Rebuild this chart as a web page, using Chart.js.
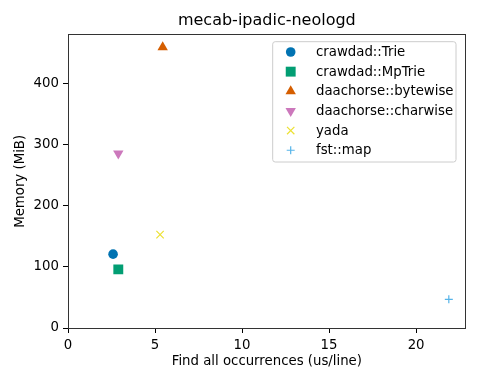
<!DOCTYPE html>
<html><head><meta charset="utf-8">
<script src="https://cdn.jsdelivr.net/npm/chart.js@4/dist/chart.umd.min.js"></script>
<style>html,body{margin:0;padding:0;background:#fff}#wrap{width:480px;height:384px}</style>
</head><body><div id="wrap"><canvas id="c" width="480" height="384"></canvas></div>
<script>
const seriesNames = ['crawdad::Trie','crawdad::MpTrie','daachorse::bytewise','daachorse::charwise','yada','fst::map'];
const findTimes = [2.59, 2.89, 5.44, 2.89, 5.29, 21.88];
const memoryMiB = [121, 96, 460, 286, 153, 47];
const colors = ['#0173b2','#029e73','#d55e00','#cc78bc','#ece133','#56b4e9'];
const markerStyles = ['circle','rect','triangle','triangle','crossRot','cross'];
const markerRot = [0,0,0,180,0,0];
const markerRadius = [4.8,7,6,6,5.2,4];
const xTicks = [0,5,10,15,20];
const yTicks = [0,100,200,300,400];
const xMax = 22.85, yMax = 480.6;
const FONT = 'DejaVu Sans';

function drawMarker(ctx, style, r, rot, x, y, color){
  ctx.save();
  ctx.translate(x,y);
  ctx.rotate(rot*Math.PI/180);
  ctx.fillStyle=color; ctx.strokeStyle=color; ctx.lineWidth=1.2;
  ctx.beginPath();
  if(style==='circle'){ctx.arc(0,0,r,0,Math.PI*2);ctx.fill();}
  else if(style==='rect'){const s=r*Math.SQRT1_2;ctx.rect(-s,-s,2*s,2*s);ctx.fill();}
  else if(style==='triangle'){
    for(let i=0;i<3;i++){const a=-Math.PI/2+i*2*Math.PI/3;const px=r*Math.cos(a),py=r*Math.sin(a);i?ctx.lineTo(px,py):ctx.moveTo(px,py);}
    ctx.closePath();ctx.fill();
  } else if(style==='crossRot'){const s=r*Math.SQRT1_2;ctx.moveTo(-s,-s);ctx.lineTo(s,s);ctx.moveTo(-s,s);ctx.lineTo(s,-s);ctx.stroke();}
  else if(style==='cross'){ctx.moveTo(-r,0);ctx.lineTo(r,0);ctx.moveTo(0,-r);ctx.lineTo(0,r);ctx.stroke();}
  ctx.restore();
}

const legendPlugin = {
  id:'mplLegend',
  afterDraw(chart){
    const ctx=chart.ctx;
    const x0=272.7,y0=41.7,w=183.3,h=120.3,rad=2.5;
    ctx.save();
    ctx.beginPath();
    ctx.moveTo(x0+rad,y0);ctx.lineTo(x0+w-rad,y0);ctx.arcTo(x0+w,y0,x0+w,y0+rad,rad);
    ctx.lineTo(x0+w,y0+h-rad);ctx.arcTo(x0+w,y0+h,x0+w-rad,y0+h,rad);
    ctx.lineTo(x0+rad,y0+h);ctx.arcTo(x0,y0+h,x0,y0+h-rad,rad);
    ctx.lineTo(x0,y0+rad);ctx.arcTo(x0,y0,x0+rad,y0,rad);ctx.closePath();
    ctx.fillStyle='rgba(255,255,255,0.8)';ctx.fill();
    ctx.strokeStyle='#cccccc';ctx.lineWidth=1;ctx.stroke();
    ctx.font='13.3px "'+FONT+'"';ctx.textBaseline='middle';ctx.textAlign='left';ctx.fillStyle='#000';
    seriesNames.forEach((n,i)=>{
      const cy=52+i*19.65;
      drawMarker(ctx,markerStyles[i],markerRadius[i],markerRot[i],290.7,cy,colors[i]);
      ctx.fillStyle='#000';
      ctx.fillText(n,316,cy+0.5);
    });
    ctx.restore();
  }
};

const datasets = seriesNames.map((n,i)=>({
  label:n,
  data:[{x:findTimes[i],y:memoryMiB[i]}],
  pointStyle:markerStyles[i],
  pointRadius:markerRadius[i],
  pointHoverRadius:markerRadius[i],
  pointRotation:markerRot[i],
  backgroundColor:colors[i],
  borderColor:colors[i],
  borderWidth:(markerStyles[i]==='cross'||markerStyles[i]==='crossRot')?1.2:0
}));

new Chart(document.getElementById('c'),{
  type:'scatter',
  data:{datasets},
  plugins:[legendPlugin],
  options:{
    responsive:false,animation:false,devicePixelRatio:1,
    layout:{padding:{left:0,right:14.3,top:0,bottom:0}},
    plugins:{
      legend:{display:false},tooltip:{enabled:false},
      title:{display:true,fullSize:false,text:'mecab-ipadic-neologd',color:'#000',
        font:{family:FONT,size:16,weight:'normal',lineHeight:1.2},
        padding:{top:11.4,bottom:4.1}}
    },
    scales:{
      x:{type:'linear',min:0,max:xMax,
        afterFit(s){s.height=56;},
        afterBuildTicks(s){s.ticks=xTicks.map(v=>({value:v}));},
        ticks:{color:'#000',font:{family:FONT,size:13.3},padding:5,includeBounds:false,maxRotation:0,autoSkip:false},
        grid:{drawOnChartArea:false,drawTicks:true,tickLength:5,color:'#000',tickWidth:1},
        border:{display:true,color:'#333',width:1},
        title:{display:true,text:'Find all occurrences (us/line)',color:'#000',font:{family:FONT,size:13.3},padding:{top:0,bottom:14}}
      },
      y:{type:'linear',min:0,max:yMax,
        afterFit(s){s.width=68;},
        afterBuildTicks(s){s.ticks=yTicks.map(v=>({value:v}));},
        ticks:{color:'#000',font:{family:FONT,size:13.3},padding:4,includeBounds:false,autoSkip:false},
        grid:{drawOnChartArea:false,drawTicks:true,tickLength:5,color:'#000',tickWidth:1},
        border:{display:true,color:'#333',width:1},
        title:{display:true,text:'Memory (MiB)',color:'#000',font:{family:FONT,size:13.3},padding:{top:13,bottom:0}}
      },
      x2:{type:'linear',position:'top',min:0,max:xMax,display:true,
        afterFit(s){s.height=0;},
        ticks:{display:false},grid:{display:false,drawTicks:false},border:{display:true,color:'#333',width:1}},
      y2:{type:'linear',position:'right',min:0,max:yMax,display:true,
        afterFit(s){s.width=0;},
        ticks:{display:false},grid:{display:false,drawTicks:false},border:{display:true,color:'#333',width:1}}
    }
  }
});
</script></body></html>
